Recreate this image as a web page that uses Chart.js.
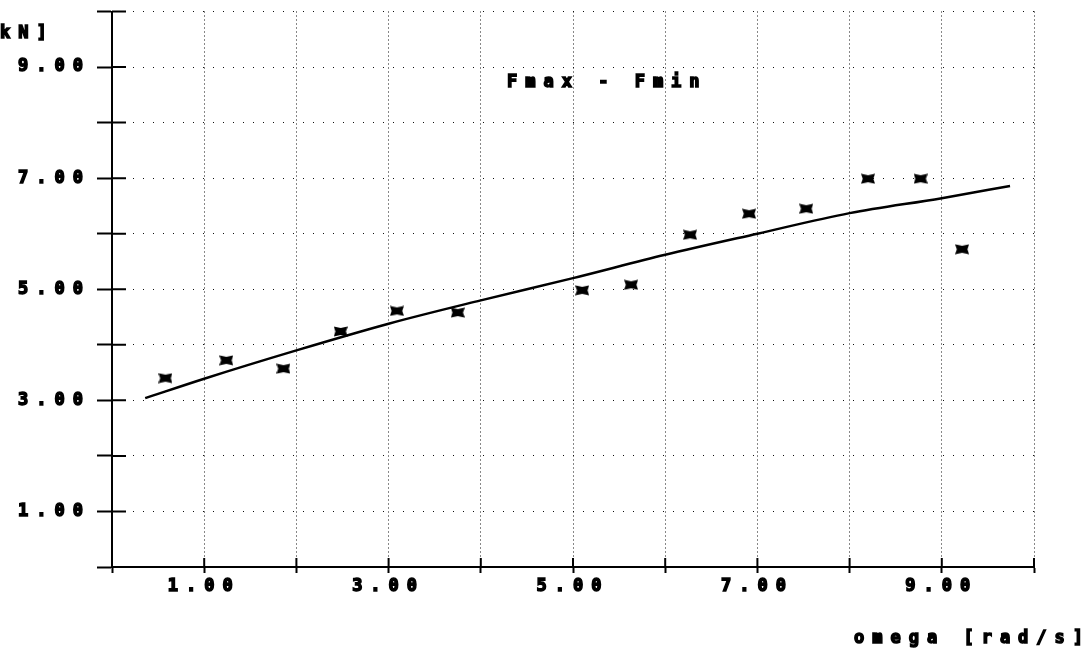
<!DOCTYPE html>
<html>
<head>
<meta charset="utf-8">
<script src="https://cdn.jsdelivr.net/npm/chart.js@4/dist/chart.umd.min.js"></script>
<style>
  html, body { margin: 0; padding: 0; background: #fff; }
  #wrap { width: 1089px; height: 651px; position: relative; }
</style>
</head>
<body>
<div id="wrap"><canvas id="c" width="1089" height="651"></canvas></div>
<script>
// ---- data ----
const chartTitle = 'Fmax - Fmin';
const yAxisTitle = 'kN]';
const xAxisTitle = 'omega [rad/s]';

const omegaMeasured = [0.58, 1.24, 1.86, 2.48, 3.09, 3.75, 5.10, 5.63, 6.27, 6.91, 7.53, 8.20, 8.77, 9.22];
const forceMeasured = [3.40, 3.72, 3.57, 4.24, 4.61, 4.58, 4.98, 5.08, 5.98, 6.36, 6.45, 6.99, 6.99, 5.72];

const omegaFit = [0.36, 1, 2, 3, 4, 5, 6, 7, 8, 9, 9.74];
const forceFit = [3.04, 3.39, 3.90, 4.38, 4.80, 5.20, 5.62, 6.00, 6.37, 6.64, 6.86];

const xTickValues = [0, 1, 2, 3, 4, 5, 6, 7, 8, 9, 10];
const yTickValues = [0, 1, 2, 3, 4, 5, 6, 7, 8, 9, 10];
const labelledTicks = [1, 3, 5, 7, 9];

// ---- marker shape ----
function makeMarker() {
  const c = document.createElement('canvas');
  c.width = 14; c.height = 11;
  const g = c.getContext('2d');
  g.fillStyle = '#000';
  g.beginPath();
  g.moveTo(0, 0.5); g.lineTo(7, 2); g.lineTo(14, 0.5); g.lineTo(12.3, 5.5);
  g.lineTo(14, 10.5); g.lineTo(7, 9); g.lineTo(0, 10.5); g.lineTo(1.7, 5.5);
  g.closePath(); g.fill();
  return c;
}

const FONT = 'DejaVu Sans Mono';
const SPACING = '8px';
const FSIZE = 17;

const spacingPlugin = {
  id: 'spacing',
  beforeUpdate(chart) { chart.ctx.letterSpacing = SPACING; },
  beforeDraw(chart) { chart.ctx.letterSpacing = SPACING; }
};

const innerTicks = {
  id: 'innerTicks',
  afterDatasetsDraw(chart) {
    const ctx = chart.ctx, xs = chart.scales.x, ys = chart.scales.y, a = chart.chartArea;
    ctx.save();
    ctx.strokeStyle = '#000';
    ctx.lineWidth = 2;
    ctx.beginPath();
    xTickValues.forEach(v => {
      const p = xs.getPixelForValue(v);
      ctx.moveTo(p, a.bottom); ctx.lineTo(p, a.bottom - 9);
    });
    yTickValues.forEach(v => {
      const p = ys.getPixelForValue(v);
      ctx.moveTo(a.left, p); ctx.lineTo(a.left + 14, p);
    });
    ctx.stroke();
    ctx.restore();
  }
};

const textPlugin = {
  id: 'texts',
  afterDraw(chart) {
    const ctx = chart.ctx;
    ctx.save();
    ctx.letterSpacing = SPACING;
    ctx.fillStyle = '#000';
    ctx.strokeStyle = '#000';
    ctx.lineWidth = 1.5;
    ctx.font = 'bold ' + FSIZE + 'px "' + FONT + '"';
    ctx.textBaseline = 'middle';
    ctx.textAlign = 'left';
    [[yAxisTitle, 0, 34], [chartTitle, 507, 83], [xAxisTitle, 854, 639]].forEach(([t, x, y]) => {
      ctx.fillText(t, x, y);
      ctx.strokeText(t, x, y);
    });
    ctx.restore();
  }
};

const tickCb = v => labelledTicks.includes(v) ? v.toFixed(2) : '';
const tickFontX = { family: FONT, weight: 'bold', size: FSIZE };
const tickFontY = { family: FONT, weight: 'bold', size: FSIZE, lineHeight: 0.3 };

new Chart(document.getElementById('c'), {
  type: 'scatter',
  data: {
    datasets: [
      {
        label: 'fit',
        data: omegaFit.map((x, i) => ({ x, y: forceFit[i] })),
        showLine: true,
        borderColor: '#000',
        borderWidth: 2.5,
        pointRadius: 0,
        cubicInterpolationMode: 'monotone',
        order: 2
      },
      {
        label: 'measured',
        data: omegaMeasured.map((x, i) => ({ x, y: forceMeasured[i] })),
        showLine: false,
        pointStyle: makeMarker(),
        pointRadius: 7,
        order: 1
      }
    ]
  },
  options: {
    responsive: false,
    animation: false,
    events: [],
    layout: { padding: { left: 0, right: 55, top: 11.5, bottom: 0 } },
    plugins: { legend: { display: false }, tooltip: { enabled: false }, title: { display: false } },
    scales: {
      x: {
        type: 'linear', min: 0, max: 10,
        afterBuildTicks: s => { s.ticks = xTickValues.map(v => ({ value: v })); },
        afterFit: s => { s.height = 84; },
        ticks: { callback: tickCb, autoSkip: false, maxRotation: 0, color: '#000', padding: 3,
                 font: tickFontX, textStrokeColor: '#000', textStrokeWidth: 1.5 },
        grid: { color: '#111', lineWidth: 1, tickLength: 6, tickColor: '#000', tickWidth: 2 },
        border: { display: true, color: '#000', width: 2, dash: [1, 3] }
      },
      y: {
        type: 'linear', min: 0, max: 10,
        afterBuildTicks: s => { s.ticks = yTickValues.map(v => ({ value: v })); },
        afterFit: s => { s.width = 112; },
        ticks: { callback: tickCb, autoSkip: false, color: '#000', padding: 6,
                 font: tickFontY, textStrokeColor: '#000', textStrokeWidth: 1.5 },
        grid: { color: '#111', lineWidth: 1, tickLength: 15, tickColor: '#000', tickWidth: 2 },
        border: { display: true, color: '#000', width: 2, dash: [1, 9] }
      }
    }
  },
  plugins: [spacingPlugin, innerTicks, textPlugin]
});
</script>
</body>
</html>
